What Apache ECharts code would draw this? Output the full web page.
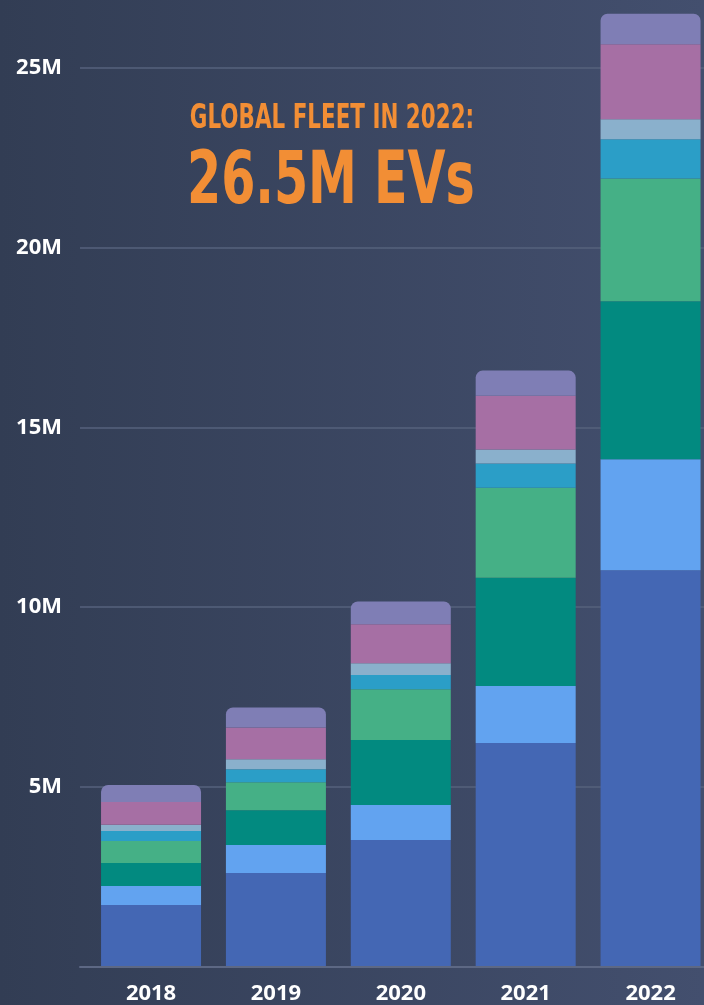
<!DOCTYPE html>
<html><head><meta charset="utf-8">
<script src="https://cdn.jsdelivr.net/npm/echarts@6/dist/echarts.min.js"></script>
<style>
html,body{margin:0;padding:0;width:704px;height:1005px;overflow:hidden;background:linear-gradient(to right,#323d54,#434f6e);}
#c{width:720px;height:1005px;}
</style>
</head><body><div id="c"></div>
<script>
// ---- data (millions of EVs) ----
const categories = ['2018', '2019', '2020', '2021', '2022'];
const seg1 = [1.70, 2.59, 3.51, 6.21, 11.02]; // bottom, dark blue
const seg2 = [0.53, 0.78, 0.97, 1.59, 3.09];  // light blue
const seg3 = [0.64, 0.97, 1.81, 3.01, 4.40];  // teal
const seg4 = [0.61, 0.78, 1.42, 2.51, 3.42];  // green
const seg5 = [0.28, 0.36, 0.39, 0.67, 1.09];  // cyan
const seg6 = [0.17, 0.28, 0.33, 0.39, 0.56];  // pale blue-grey
const seg7 = [0.64, 0.88, 1.09, 1.50, 2.09];  // magenta
const seg8 = [0.47, 0.56, 0.63, 0.70, 0.85];  // lavender (top)
const yTicks = [5, 10, 15, 20, 25];
const titleLine1 = 'GLOBAL FLEET IN 2022:';
const titleLine2 = '26.5M EVs';

const segments = [seg1, seg2, seg3, seg4, seg5, seg6, seg7, seg8];
const colors = ['#4467b4', '#62a3f0', '#028a80', '#45b086', '#2b9ec7', '#8ab0cc', '#a66fa4', '#7f7eb5'];
const yMax = 26.9;

const titleFont = "'Liberation Sans Narrow','DejaVu Sans Condensed',Roboto,sans-serif";
const ctx = document.createElement('canvas').getContext('2d');
ctx.textBaseline = 'middle';
function fitText(text, left, top, width, height, color) {
  const font = 'bold 100px ' + titleFont;
  ctx.font = font;
  const m = ctx.measureText(text);
  const inkW = m.actualBoundingBoxLeft + m.actualBoundingBoxRight;
  const inkH = m.actualBoundingBoxAscent + m.actualBoundingBoxDescent;
  const sx = width / inkW, sy = height / inkH;
  return {
    type: 'text',
    x: left + m.actualBoundingBoxLeft * sx,
    y: top + m.actualBoundingBoxAscent * sy,
    scaleX: sx, scaleY: sy,
    z: 100,
    style: {
      text: text, x: 0, y: 0, font: font, fill: color,
      align: 'left', verticalAlign: 'middle',
      textAlign: 'left', textVerticalAlign: 'middle'
    }
  };
}

const chart = echarts.init(document.getElementById('c'), null, {renderer: 'canvas'});
const labelFont = "'Open Sans',sans-serif";
chart.setOption({
  animation: false,
  backgroundColor: 'transparent',
  grid: [
    {left: 80, right: 16, top: 0, bottom: 39, containLabel: false, outerBoundsMode: 'none'},
    {left: 88.6, right: 7, top: 0, bottom: 39, containLabel: false, outerBoundsMode: 'none'}
  ],
  xAxis: [
    {type: 'value', gridIndex: 0, min: 0, max: 1, offset: 1,
     axisLine: {show: true, onZero: false, lineStyle: {color: '#5d6884', width: 2}},
     axisTick: {show: false}, axisLabel: {show: false}, splitLine: {show: false}},
    {type: 'category', gridIndex: 1, data: categories,
     axisLine: {show: false}, axisTick: {show: false}, splitLine: {show: false},
     axisLabel: {color: '#ffffff', fontFamily: labelFont, fontWeight: 'bold', fontSize: 22,
                 verticalAlign: 'middle', margin: 28}}
  ],
  yAxis: [
    {type: 'value', gridIndex: 0, min: 0, max: yMax, interval: 5,
     axisLine: {show: false}, axisTick: {show: false},
     splitLine: {show: true, showMinLine: false, showMaxLine: false, lineStyle: {color: '#56627d', width: 1.5}},
     axisLabel: {color: '#ffffff', fontFamily: labelFont, fontWeight: 'bold', fontSize: 22, margin: 18,
                 showMaxLabel: false,
                 formatter: v => (yTicks.indexOf(v) >= 0 ? v + 'M' : '')}},
    {type: 'value', gridIndex: 1, min: 0, max: yMax, show: false, splitLine: {show: false}}
  ],
  series: segments.map((d, i) => ({
    type: 'bar', name: 'Segment ' + (i + 1), stack: 'fleet', data: d,
    xAxisIndex: 1, yAxisIndex: 1, barWidth: 100,
    itemStyle: {color: colors[i], borderRadius: i === segments.length - 1 ? [7, 7, 0, 0] : 0}
  })),
  graphic: [
    fitText(titleLine1, 190.8, 103.3, 281, 25, '#f28e35'),
    fitText(titleLine2, 190.8, 148.3, 282, 55.7, '#f28e35')
  ]
});
</script>
</body></html>
